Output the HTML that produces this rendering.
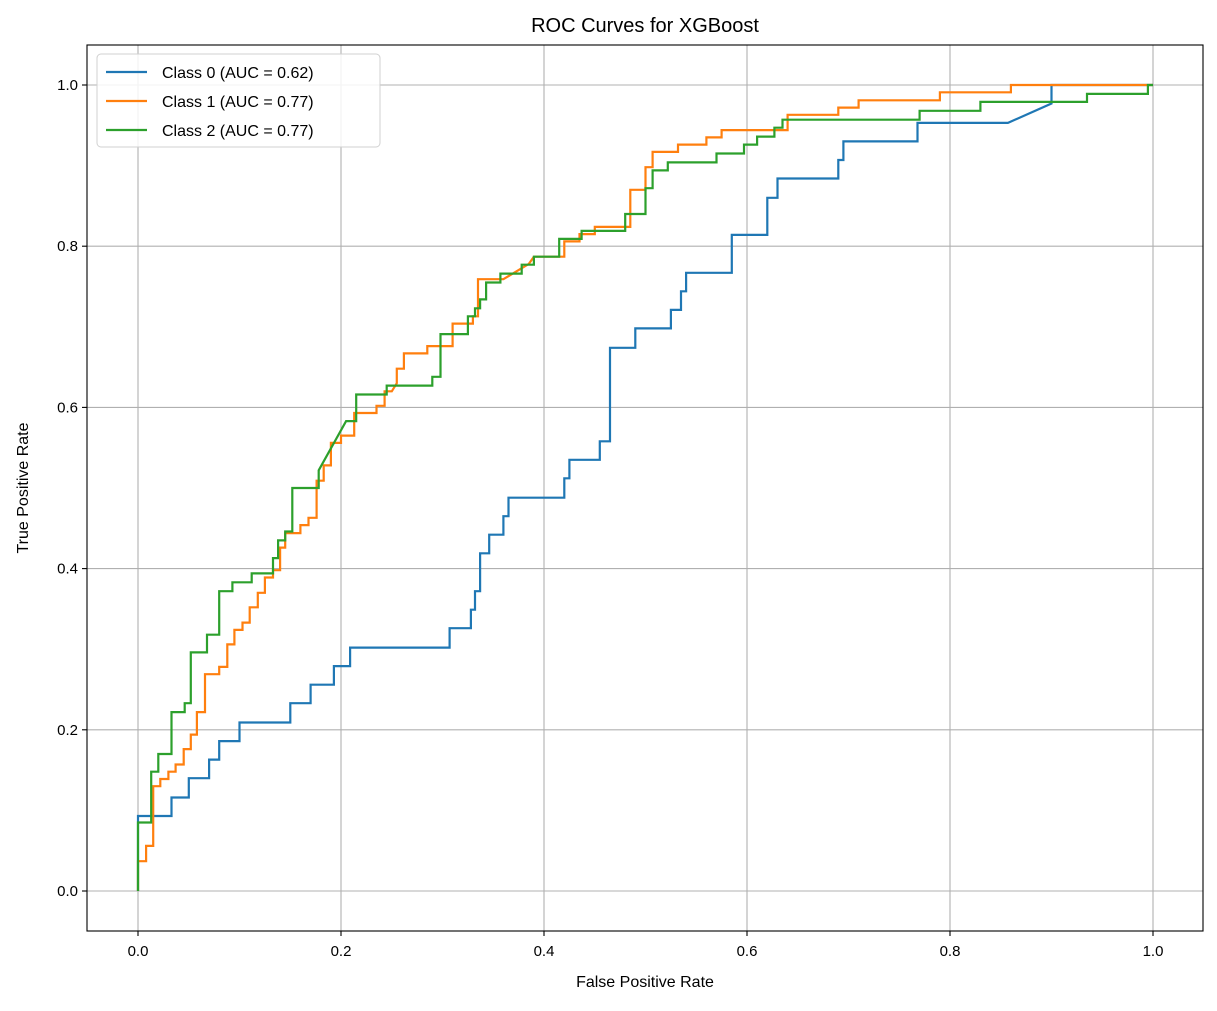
<!DOCTYPE html>
<html><head><meta charset="utf-8"><style>
body{margin:0;background:#fff;}
svg text{font-family:"Liberation Sans","DejaVu Sans",sans-serif;fill:#000;}
</style></head><body>
<svg id="chart" width="1217" height="1006" xmlns="http://www.w3.org/2000/svg">
<g id="grid"></g><g id="series"></g><g id="axes"></g>
</svg>
<script>
const xTicks=[0,0.2,0.4,0.6,0.8,1.0];
const yTicks=[0,0.2,0.4,0.6,0.8,1.0];
const tickLabels=["0.0","0.2","0.4","0.6","0.8","1.0"];
const seriesNames=["Class 0 (AUC = 0.62)","Class 1 (AUC = 0.77)","Class 2 (AUC = 0.77)"];
const seriesColors=["#1f77b4","#ff7f0e","#2ca02c"];
const fpr0=[0,0,0.033,0.033,0.05,0.05,0.07,0.07,0.08,0.08,0.1,0.1,0.15,0.15,0.17,0.17,0.193,0.193,0.209,0.209,0.307,0.307,0.328,0.328,0.332,0.332,0.337,0.337,0.346,0.346,0.36,0.36,0.365,0.365,0.42,0.42,0.425,0.425,0.455,0.455,0.465,0.465,0.49,0.49,0.525,0.525,0.535,0.535,0.54,0.54,0.585,0.585,0.62,0.62,0.63,0.63,0.69,0.69,0.695,0.695,0.768,0.768,0.857,0.9,0.9,1];
const tpr0=[0,0.093,0.093,0.116,0.116,0.14,0.14,0.163,0.163,0.186,0.186,0.209,0.209,0.233,0.233,0.256,0.256,0.279,0.279,0.302,0.302,0.326,0.326,0.349,0.349,0.372,0.372,0.419,0.419,0.442,0.442,0.465,0.465,0.488,0.488,0.512,0.512,0.535,0.535,0.558,0.558,0.674,0.674,0.698,0.698,0.721,0.721,0.744,0.744,0.767,0.767,0.814,0.814,0.86,0.86,0.884,0.884,0.907,0.907,0.93,0.93,0.953,0.953,0.977,1,1];
const fpr1=[0,0,0.008,0.008,0.015,0.015,0.022,0.022,0.03,0.03,0.037,0.037,0.045,0.045,0.052,0.052,0.058,0.058,0.066,0.066,0.08,0.08,0.088,0.088,0.095,0.095,0.103,0.103,0.11,0.11,0.118,0.118,0.125,0.125,0.133,0.133,0.14,0.14,0.145,0.145,0.16,0.16,0.168,0.168,0.176,0.176,0.183,0.183,0.19,0.19,0.2,0.2,0.213,0.213,0.235,0.235,0.243,0.243,0.25,0.255,0.255,0.262,0.262,0.285,0.285,0.31,0.31,0.33,0.33,0.335,0.335,0.36,0.385,0.39,0.42,0.42,0.435,0.435,0.45,0.45,0.485,0.485,0.5,0.5,0.507,0.507,0.532,0.532,0.56,0.56,0.575,0.575,0.64,0.64,0.69,0.69,0.71,0.71,0.79,0.79,0.86,0.86,1];
const tpr1=[0,0.037,0.037,0.056,0.056,0.13,0.13,0.139,0.139,0.148,0.148,0.157,0.157,0.176,0.176,0.194,0.194,0.222,0.222,0.269,0.269,0.278,0.278,0.306,0.306,0.324,0.324,0.333,0.333,0.352,0.352,0.37,0.37,0.389,0.389,0.398,0.398,0.426,0.426,0.444,0.444,0.454,0.454,0.463,0.463,0.509,0.509,0.528,0.528,0.556,0.556,0.565,0.565,0.593,0.593,0.602,0.602,0.62,0.62,0.63,0.648,0.648,0.667,0.667,0.676,0.676,0.704,0.704,0.713,0.713,0.759,0.759,0.778,0.787,0.787,0.806,0.806,0.815,0.815,0.824,0.824,0.87,0.87,0.898,0.898,0.917,0.917,0.926,0.926,0.935,0.935,0.944,0.944,0.963,0.963,0.972,0.972,0.981,0.981,0.991,0.991,1,1];
const fpr2=[0,0,0.013,0.013,0.02,0.02,0.033,0.033,0.046,0.046,0.052,0.052,0.068,0.068,0.08,0.08,0.093,0.093,0.112,0.112,0.133,0.133,0.138,0.138,0.145,0.145,0.152,0.152,0.178,0.178,0.205,0.215,0.215,0.245,0.245,0.29,0.29,0.298,0.298,0.325,0.325,0.332,0.332,0.337,0.337,0.343,0.343,0.357,0.357,0.378,0.378,0.39,0.39,0.415,0.415,0.437,0.437,0.48,0.48,0.5,0.5,0.507,0.507,0.522,0.522,0.57,0.57,0.597,0.597,0.61,0.61,0.627,0.627,0.635,0.635,0.77,0.77,0.83,0.83,0.935,0.935,0.995,0.995,1];
const tpr2=[0,0.085,0.085,0.148,0.148,0.17,0.17,0.222,0.222,0.233,0.233,0.296,0.296,0.318,0.318,0.372,0.372,0.383,0.383,0.394,0.394,0.413,0.413,0.435,0.435,0.446,0.446,0.5,0.5,0.522,0.583,0.583,0.616,0.616,0.627,0.627,0.638,0.638,0.691,0.691,0.713,0.713,0.723,0.723,0.734,0.734,0.755,0.755,0.766,0.766,0.777,0.777,0.787,0.787,0.809,0.809,0.819,0.819,0.84,0.84,0.872,0.872,0.894,0.894,0.904,0.904,0.915,0.915,0.926,0.926,0.936,0.936,0.947,0.947,0.957,0.957,0.968,0.968,0.979,0.979,0.989,0.989,1,1];

const NS="http://www.w3.org/2000/svg";
const L=87,R=1203,T=45,B=931;
const sx=v=>138+v*1015, sy=v=>891-v*806;
function mk(tag,attrs,parent,text){const e=document.createElementNS(NS,tag);for(const k in attrs)e.setAttribute(k,attrs[k]);if(text!==undefined)e.textContent=text;parent.appendChild(e);return e;}
const grid=document.getElementById('grid'),ser=document.getElementById('series'),ax=document.getElementById('axes');
xTicks.forEach((t,i)=>{
  const g=mk('line',{x1:sx(t),x2:sx(t),y1:T,y2:B,stroke:'#b0b0b0','stroke-width':1.1},grid);
  
  
  mk('line',{x1:sx(t),x2:sx(t),y1:B,y2:B+5,stroke:'#000','stroke-width':1.1},ax);
  const tx=mk('text',{x:sx(t),y:B+25,'text-anchor':'middle','font-size':15},ax,tickLabels[i]);
  
  
});
yTicks.forEach((t,i)=>{
  const g=mk('line',{x1:L,x2:R,y1:sy(t),y2:sy(t),stroke:'#b0b0b0','stroke-width':1.1},grid);
  
  
  mk('line',{x1:L-5,x2:L,y1:sy(t),y2:sy(t),stroke:'#000','stroke-width':1.1},ax);
  const tx=mk('text',{x:L-9,y:sy(t)+5,'text-anchor':'end','font-size':15},ax,tickLabels[i]);
  
  
});
const X=[fpr0,fpr1,fpr2],Y=[tpr0,tpr1,tpr2];
X.forEach((xs,s)=>{
  const pts=xs.map((x,i)=>sx(x).toFixed(1)+','+sy(Y[s][i]).toFixed(1)).join(' ');
  const p=mk('polyline',{points:pts,fill:'none',stroke:seriesColors[s],'stroke-width':2.2},ser);
  
  
});
const frame=mk('rect',{x:L,y:T,width:R-L,height:B-T,fill:'none',stroke:'#000','stroke-width':1.1},ax);


const title=mk('text',{x:(L+R)/2,y:32,'text-anchor':'middle','font-size':20},ax,'ROC Curves for XGBoost');


const xl=mk('text',{x:(L+R)/2,y:987,'text-anchor':'middle','font-size':16},ax,'False Positive Rate');


const yl=mk('text',{x:0,y:0,'text-anchor':'middle','font-size':16,transform:'translate(28,488) rotate(-90)'},ax,'True Positive Rate');


const lg=mk('g',{},ax);


mk('rect',{x:97,y:54,width:283,height:93,rx:4,fill:'#fff','fill-opacity':0.85,stroke:'#d0d0d0','stroke-width':1},lg);
seriesNames.forEach((n,i)=>{
  const y=72+i*29;
  const ln=mk('line',{x1:106,x2:147,y1:y,y2:y,stroke:seriesColors[i],'stroke-width':2.2},lg);
  
  
  const t=mk('text',{x:162,y:y+6,'font-size':16},lg,n);
  
  
});
</script>
</body></html>
